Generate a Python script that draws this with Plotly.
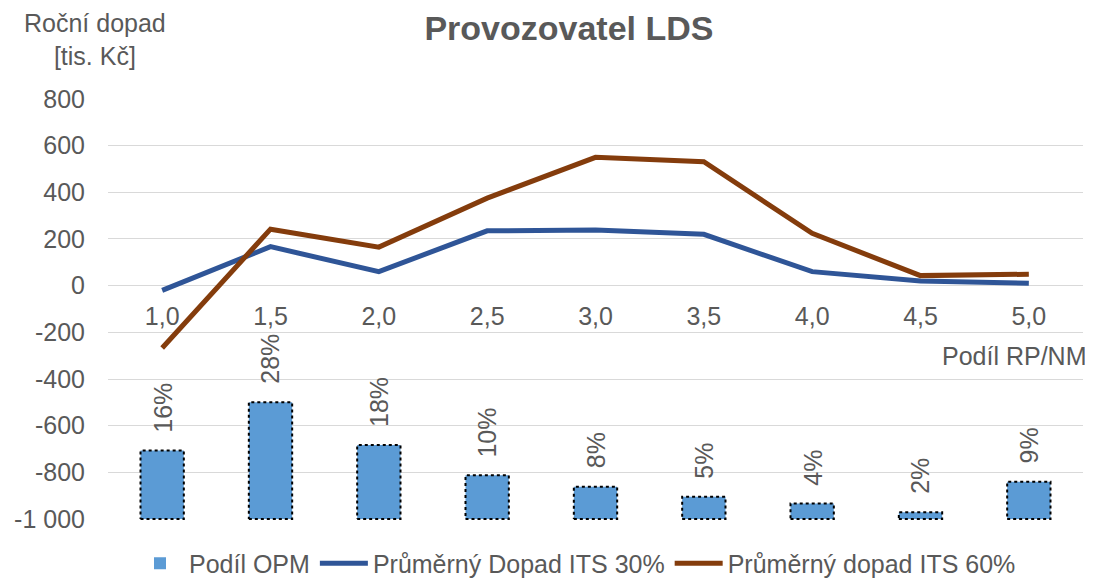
import plotly.graph_objects as go

# data
podil_rp_nm = [1.0, 1.5, 2.0, 2.5, 3.0, 3.5, 4.0, 4.5, 5.0]
podil_opm = [0.163, 0.278, 0.176, 0.104, 0.077, 0.053, 0.037, 0.016, 0.089]
dopad_its_30 = [-20, 167, 60, 235, 238, 220, 60, 20, 10]
dopad_its_60 = [-267, 242, 165, 375, 550, 531, 224, 43, 49]

y_min, y_max = -1000, 800
y_ticks = list(range(y_min, y_max + 1, 200))
y_tick_text = [f"{v:,}".replace(",", " ") for v in y_ticks]

FONT = "Arial, Liberation Sans, sans-serif"
GREY = "#595959"
FS = 25
BAR_W = 0.2
PAD = 4  # small padding so the edge gridlines are drawn

fig = go.Figure()

fig.add_trace(go.Bar(
    x=podil_rp_nm, y=podil_opm, yaxis="y2", width=BAR_W,
    name="Podíl OPM",
    marker=dict(color="#5B9BD5", line=dict(color="black", width=0)),
))

# dotted outlines around the bars (plotly bars can't dash their border)
ox, oy = [], []
for x, v in zip(podil_rp_nm, podil_opm):
    ox += [x - BAR_W / 2, x + BAR_W / 2, x + BAR_W / 2, x - BAR_W / 2, x - BAR_W / 2, None]
    oy += [0, 0, v, v, 0, None]
fig.add_trace(go.Scatter(
    x=ox, y=oy, yaxis="y2", mode="lines", showlegend=False, hoverinfo="skip",
    line=dict(color="black", width=2, dash="dot"),
))

fig.add_trace(go.Scatter(
    x=podil_rp_nm, y=dopad_its_30, mode="lines",
    name="Průměrný Dopad ITS 30%",
    line=dict(color="#2F5597", width=5),
))
fig.add_trace(go.Scatter(
    x=podil_rp_nm, y=dopad_its_60, mode="lines",
    name="Průměrný dopad ITS 60%",
    line=dict(color="#843C0C", width=5),
))

# rotated percentage labels above bars
for x, v in zip(podil_rp_nm, podil_opm):
    fig.add_annotation(
        x=x, y=v, yref="y2", text=f"{round(v * 100):d}%", textangle=-90,
        showarrow=False, yanchor="bottom", yshift=16,
        font=dict(family=FONT, size=FS, color=GREY),
    )

span = y_max - y_min
y_range = [y_min - PAD, y_max + PAD]
y2_range = [-PAD / span, 1 + PAD / span]
zero_pos = (0 - y_range[0]) / (y_range[1] - y_range[0])

# page body has an 8px margin, so the figure is a bit smaller than the window
fig.update_layout(
    width=1085, height=575,
    margin=dict(l=100, r=10, t=90, b=63, autoexpand=False),
    plot_bgcolor="white", paper_bgcolor="white",
    separators=", ",
    font=dict(family=FONT, size=FS, color=GREY),
    title=dict(text="<b>Provozovatel LDS</b>", x=0.517, xanchor="center",
               y=0.965, yanchor="middle",
               font=dict(family=FONT, size=34, color=GREY)),
    xaxis=dict(
        range=[0.75, 5.25], tickvals=podil_rp_nm, tickformat=".1f",
        anchor="free", position=zero_pos, showgrid=False, showline=False,
        zeroline=False, ticks="outside", ticklen=8, tickcolor="rgba(0,0,0,0)",
        tickfont=dict(family=FONT, size=FS, color=GREY),
    ),
    yaxis=dict(
        range=y_range, tickvals=y_ticks, ticktext=y_tick_text,
        showgrid=True, gridcolor="#D9D9D9", gridwidth=1.3,
        zeroline=False, showline=False, ticks="", ticklabelstandoff=22,
        tickfont=dict(family=FONT, size=FS, color=GREY),
    ),
    yaxis2=dict(range=y2_range, overlaying="y", visible=False),
    legend=dict(orientation="h", x=0.48, xanchor="center", y=-0.103, yanchor="middle",
                itemwidth=48, tracegroupgap=0,
                font=dict(family=FONT, size=FS, color=GREY), traceorder="normal"),
    showlegend=True,
    barmode="overlay",
)

fig.add_annotation(
    text="Roční dopad<br>[tis. Kč]", xref="paper", yref="paper",
    x=-0.013, xanchor="center", y=1.138, yanchor="middle",
    showarrow=False, align="center",
    font=dict(family=FONT, size=FS, color=GREY),
)
fig.add_annotation(
    text="Podíl RP/NM", xref="paper", yref="paper", x=1.005, xanchor="right",
    y=0.388, yanchor="middle", showarrow=False,
    font=dict(family=FONT, size=FS, color=GREY),
)

fig.write_html("out.html")
